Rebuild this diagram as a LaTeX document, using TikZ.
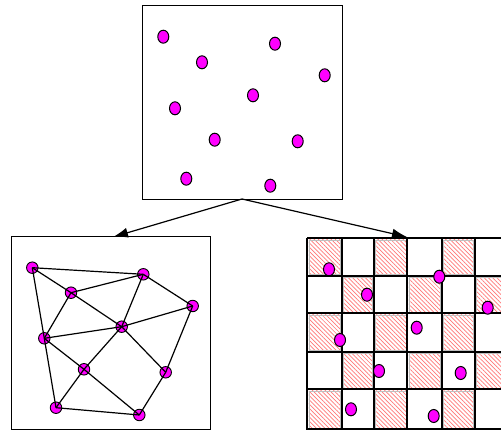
\documentclass[tikz,border=0pt]{standalone}
\usetikzlibrary{patterns.meta,arrows.meta,shapes.geometric}
\definecolor{mag}{RGB}{255,0,255}
\definecolor{hatchred}{RGB}{255,120,120}
\begin{document}
\begin{tikzpicture}[x=1pt,y=-1pt,
  pt/.style={ellipse,draw=black,line width=1pt,fill=mag,minimum width=11pt,minimum height=13pt,inner sep=0pt},
  gnode/.style={circle,draw=black,line width=0.9pt,fill=mag,minimum size=11.5pt,inner sep=0pt},
  frame/.style={draw=black,line width=1.3pt},
  edge/.style={draw=black,line width=1.2pt},
  arr/.style={draw=black,line width=1.2pt,-{Latex[length=15pt,width=10pt]}},
  hatch/.style={draw=gray!50,line width=0.5pt,fill=white,pattern={Lines[angle=-45,distance=3pt,line width=0.7pt]},pattern color=hatchred},
  gridline/.style={draw=black,line width=1.9pt}
]
\clip (0,0) rectangle (501,430);
\fill[white] (0,0) rectangle (501,430);

% top box
\node[frame,minimum width=200pt,minimum height=194pt,inner sep=0pt,anchor=north west] (top) at (142,5) {};
\node[pt] (d1) at (163.3,36.7) {};
\node[pt] (d2) at (275,43.7) {};
\node[pt] (d3) at (202,62.3) {};
\node[pt] (d4) at (324.7,75.3) {};
\node[pt] (d5) at (253,95.3) {};
\node[pt] (d6) at (175,108.3) {};
\node[pt] (d7) at (214.7,139.7) {};
\node[pt] (d8) at (297.7,141.3) {};
\node[pt] (d9) at (186.3,178.7) {};
\node[pt] (d10) at (270.3,185.7) {};

% arrows
\coordinate (apex) at (242,199);
\coordinate (tl) at (113,237);
\coordinate (tr) at (407,237);

% bottom-left box
\node[frame,minimum width=199pt,minimum height=193pt,inner sep=0pt,anchor=north west] (gbox) at (11,236) {};
\node[gnode] (A) at (32.3,267.7) {};
\node[gnode] (B) at (143.3,274.3) {};
\node[gnode] (C) at (71,292.7) {};
\node[gnode] (D) at (192.7,306) {};
\node[gnode] (E) at (121.7,326.7) {};
\node[gnode] (F) at (44.3,338.3) {};
\node[gnode] (G) at (84,369.3) {};
\node[gnode] (H) at (165.7,372.3) {};
\node[gnode] (I) at (56,407.7) {};
\node[gnode] (J) at (139.3,415) {};
\foreach \u/\v in {A/B,A/C,A/F,F/I,B/C,B/E,B/D,C/F,C/E,F/E,D/E,D/H,F/G,E/G,E/H,G/I,G/J,I/J,H/J}
  \draw[edge] (\u.center) -- (\v.center);

% grid
\foreach \r/\ya/\yb in {0/238.3/276,1/276/313.3,2/313.3/351.7,3/351.7/389.3,4/389.3/429.3}{
  \foreach \c/\xa/\xb in {0/307.3/341.7,1/341.7/374,2/374/407.3,3/407.3/441.7,4/441.7/475,5/475/508.5}{
    \pgfmathtruncatemacro{\parity}{mod(\r+\c,2)}
    \ifnum\parity=0
      \path[hatch] (\xa+1.5,\ya+1.5) rectangle (\xb-1.5,\yb-1.5);
    \fi
  }
}
\foreach \y in {238.3,276,313.3,351.7,389.3,429.3}
  \draw[gridline] (307.3,\y) -- (510,\y);
\foreach \x in {307.3,341.7,374,407.3,441.7,475}
  \draw[gridline] (\x,238.3) -- (\x,440);

\node[pt] (g1) at (329,269.3) {};
\node[pt] (g2) at (439.3,276.7) {};
\node[pt] (g3) at (367,294.7) {};
\node[pt] (g4) at (487.7,307.7) {};
\node[pt] (g5) at (416.7,327.7) {};
\node[pt] (g6) at (340,340) {};
\node[pt] (g7) at (379,371) {};
\node[pt] (g8) at (460.7,373) {};
\node[pt] (g9) at (351,409.3) {};
\node[pt] (g10) at (433.7,416) {};

\draw[arr] (apex) -- (tl);
\draw[arr] (apex) -- (tr);
\end{tikzpicture}
\end{document}
